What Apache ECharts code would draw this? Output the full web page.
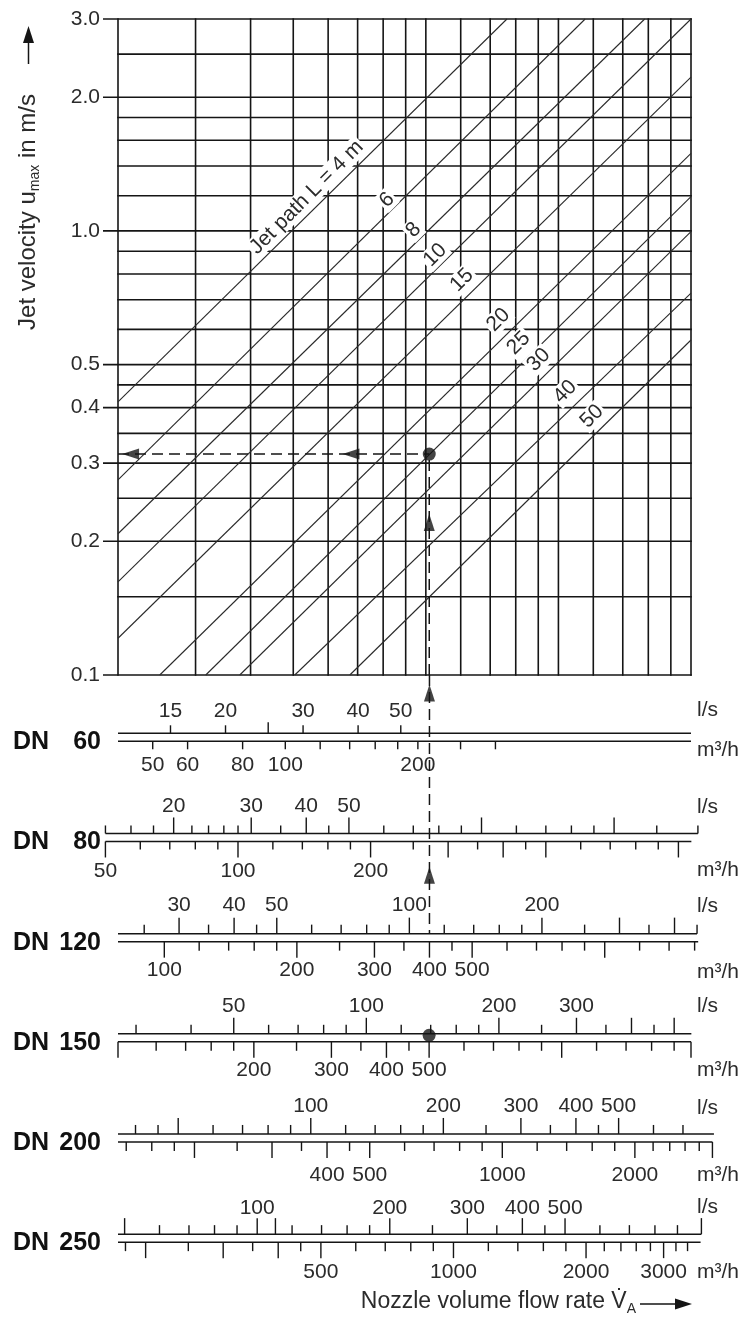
<!DOCTYPE html>
<html>
<head>
<meta charset="utf-8">
<title>Jet velocity nomogram</title>
<script src="https://cdn.jsdelivr.net/npm/echarts@6/dist/echarts.min.js"></script>
<style>
html,body{margin:0;padding:0;background:#ffffff;}
#chart{width:744px;height:1318px;}
</style>
</head>
<body>
<div id="chart"></div>
<script>
// ---------------- main diagram data ----------------
const xGridValues = [1, 1.5, 2, 2.5, 3, 3.5, 4, 4.5, 5, 6, 7, 8, 9, 10, 12, 14, 16, 18, 20];
const yGridValues = [0.1, 0.15, 0.2, 0.25, 0.3, 0.35, 0.4, 0.45, 0.5, 0.6, 0.7, 0.8, 0.9, 1.0, 1.2, 1.4, 1.6, 1.8, 2.0, 2.5, 3.0];
const yTickLabels = [0.1, 0.2, 0.3, 0.4, 0.5, 1.0, 2.0, 3.0];

const jetPaths = [4, 6, 8, 10, 15, 20, 25, 30, 40, 50];
const jetStart = [[1, 0.412], [1, 0.275], [1, 0.208], [1, 0.162], [1, 0.121], [1.244, 0.1], [1.582, 0.1], [1.89, 0.1], [2.52, 0.1], [3.36, 0.1]];
const jetEnd = [[7.64, 3.0], [11.5, 3.0], [15.7, 3.0], [20, 3.0], [20, 2.22], [20, 1.495], [20, 1.194], [20, 0.996], [20, 0.724], [20, 0.568]];
const jetLabels = ['Jet path L = 4 m', '6', '8', '10', '15', '20', '25', '30', '40', '50'];
const jetLabelAt = [[2.68, 1.19], [4.08, 1.174], [4.69, 1.004], [5.25, 0.882], [6.04, 0.775], [7.31, 0.63], [8.12, 0.559], [9.02, 0.512], [10.36, 0.434], [11.92, 0.382]];

const examplePoint = [5.09, 0.3144];
const exampleLeftArrows = [1.068, 3.38];
const exampleUpArrowMain = 0.2205;
const exampleFlowDN120 = 400;   // m3/h
const exampleFlowDN150 = 500;   // m3/h
const exampleUpArrowsScale = [0.18, 2.0];

// ---------------- DN scales ----------------
const rowNames = ['60', '80', '120', '150', '200', '250'];
const lsAxisRange  = [[11.4, 228], [14.95, 299], [21.8, 436], [27.3, 546], [36.5, 730], [48.3, 966]];
const m3hAxisRange = [[41.7, 834], [53.4, 1068], [78.5, 1570], [98.3, 1966], [134.1, 2682], [173.1, 3462]];
const lsLineRange  = [[11.4, 228], [14, 310], [21.8, 450], [27.3, 547], [36.5, 823], [48.3, 1020]];
const m3hLineRange = [[41.7, 834], [50, 1070], [78.5, 1630], [98.3, 1966], [134.1, 3000], [173.1, 3640]];

const dn60LsTicks = [15, 20, 25, 30, 40, 50];
const dn60LsLabels = [15, 20, 30, 40, 50];
const dn60LsMajor = [25];
const dn60M3hTicks = [50, 60, 80, 100, 120, 140, 160, 180, 200, 250, 300];
const dn60M3hLabels = [50, 60, 80, 100, 200];
const dn60M3hMajor = [];

const dn80LsTicks = [14, 16, 18, 20, 22, 24, 26, 28, 30, 35, 40, 45, 50, 60, 70, 80, 90, 100, 120, 140, 160, 180, 200, 250, 310];
const dn80LsLabels = [20, 30, 40, 50];
const dn80LsMajor = [20, 30, 40, 50, 100, 200];
const dn80M3hTicks = [50, 60, 70, 80, 90, 100, 120, 140, 160, 180, 200, 250, 300, 350, 400, 450, 500, 600, 700, 800, 900, 1000];
const dn80M3hLabels = [50, 100, 200];
const dn80M3hMajor = [50, 100, 200, 300, 400, 500, 1000];

const dn120LsTicks = [25, 30, 35, 40, 45, 50, 60, 70, 80, 90, 100, 120, 140, 160, 180, 200, 250, 300, 350, 400, 450];
const dn120LsLabels = [30, 40, 50, 100, 200];
const dn120LsMajor = [30, 40, 50, 100, 200, 300, 400];
const dn120M3hTicks = [100, 120, 140, 160, 180, 200, 250, 300, 350, 400, 450, 500, 600, 700, 800, 900, 1000, 1200, 1400, 1600];
const dn120M3hLabels = [100, 200, 300, 400, 500];
const dn120M3hMajor = [100, 200, 300, 400, 500, 1000];

const dn150LsTicks = [30, 40, 50, 60, 70, 80, 90, 100, 120, 140, 160, 180, 200, 250, 300, 350, 400, 450, 500];
const dn150LsLabels = [50, 100, 200, 300];
const dn150LsMajor = [50, 100, 200, 300, 400, 500];
const dn150M3hTicks = [98.3, 120, 140, 160, 180, 200, 250, 300, 350, 400, 450, 500, 600, 700, 800, 900, 1000, 1200, 1400, 1600, 1800, 1966];
const dn150M3hLabels = [200, 300, 400, 500];
const dn150M3hMajor = [98.3, 200, 300, 400, 500, 1000, 1966];

const dn200LsTicks = [40, 45, 50, 60, 70, 80, 90, 100, 120, 140, 160, 180, 200, 250, 300, 350, 400, 450, 500, 600, 700];
const dn200LsLabels = [100, 200, 300, 400, 500];
const dn200LsMajor = [50, 100, 200, 300, 400, 500];
const dn200M3hTicks = [140, 160, 180, 200, 250, 300, 350, 400, 450, 500, 600, 700, 800, 900, 1000, 1200, 1400, 1600, 1800, 2000, 2200, 2400, 2600, 2800, 3000];
const dn200M3hLabels = [400, 500, 1000, 2000];
const dn200M3hMajor = [200, 300, 400, 500, 1000, 2000, 3000];

const dn250LsTicks = [50, 60, 70, 80, 90, 100, 110, 120, 140, 160, 180, 200, 250, 300, 350, 400, 450, 500, 600, 700, 800, 900, 1020];
const dn250LsLabels = [100, 200, 300, 400, 500];
const dn250LsMajor = [50, 100, 110, 200, 300, 400, 500, 1020];
const dn250M3hTicks = [180, 200, 250, 300, 350, 400, 450, 500, 600, 700, 800, 900, 1000, 1200, 1400, 1600, 1800, 2000, 2200, 2400, 2600, 2800, 3000, 3200, 3400];
const dn250M3hLabels = [500, 1000, 2000, 3000];
const dn250M3hMajor = [200, 300, 400, 500, 1000, 2000, 3000];

// ---------------- layout / style ----------------
const INK = '#151515';
const TXT = '#2b2b2b';
const FONT = '"Liberation Sans", Arial, Helvetica, sans-serif';
const X_MIN = 1, X_MAX = 20, Y_MIN = 0.1, Y_MAX = 3.0;
const LINE_GAP = 8;
const rowTop = i => 0.582 + i;
const tickShort = [8, 8, 9, 9, 9, 9];
const tickLong = [11, 16, 16, 16, 16, 16];
const labelUp = [22, 27, 28, 28, 28, 26];
const labelDown = [24, 30, 29, 28, 33, 30];
const unitUp = [23, 26, 27, 28, 26, 27];
const unitDown = [9, 29, 31, 28, 33, 30];

function lineEl(x1, y1, x2, y2, w, color, dash) {
  return { type: 'line', shape: { x1, y1, x2, y2 }, style: { stroke: color || INK, lineWidth: w || 1.5, lineDash: dash || null } };
}
function textEl(x, y, text, align, size, extra) {
  return { type: 'text', x: x, y: y, style: Object.assign({ text: String(text), align: align || 'center', verticalAlign: 'middle', fontSize: size || 21, fontFamily: FONT, fill: TXT }, extra || {}) };
}

const series = [];

// vertical grid lines
series.push({
  type: 'custom', xAxisIndex: 0, yAxisIndex: 0, z: 1, silent: true,
  data: xGridValues.map(v => [v, Y_MIN]),
  renderItem: (params, api) => {
    const v = api.value(0);
    const a = api.coord([v, Y_MIN]), b = api.coord([v, Y_MAX]);
    return lineEl(a[0], a[1] + 0.8, b[0], b[1] - 0.8, 1.6);
  }
});
// horizontal grid lines + y labels
series.push({
  type: 'custom', xAxisIndex: 0, yAxisIndex: 0, z: 1, silent: true,
  data: yGridValues.map(v => [X_MIN, v]),
  renderItem: (params, api) => {
    const v = api.value(1);
    const a = api.coord([X_MIN, v]), b = api.coord([X_MAX, v]);
    const labeled = yTickLabels.indexOf(v) >= 0;
    const ch = [lineEl(labeled ? a[0] - 15 : a[0] - 0.8, a[1], b[0] + 0.8, b[1], 1.6)];
    if (labeled) ch.push(textEl(a[0] - 18, a[1], v.toFixed(1), 'right', 21));
    return { type: 'group', children: ch };
  }
});
// jet path lines
series.push({
  type: 'custom', xAxisIndex: 0, yAxisIndex: 0, z: 2, silent: true,
  encode: { x: [0, 2], y: [1, 3] },
  data: jetPaths.map((L, i) => [jetStart[i][0], jetStart[i][1], jetEnd[i][0], jetEnd[i][1], L]),
  renderItem: (params, api) => {
    const a = api.coord([api.value(0), api.value(1)]);
    const b = api.coord([api.value(2), api.value(3)]);
    return lineEl(a[0], a[1], b[0], b[1], 1.1, '#2a2a2a');
  }
});
// jet path labels
series.push({
  type: 'custom', xAxisIndex: 0, yAxisIndex: 0, z: 3, silent: true,
  data: jetLabelAt.map((p, i) => [p[0], p[1], i]),
  renderItem: (params, api) => {
    const c = api.coord([api.value(0), api.value(1)]);
    const t = textEl(c[0], c[1], jetLabels[api.value(2)], 'center', 21, { backgroundColor: '#ffffff', padding: [0, 2] });
    t.rotation = Math.PI / 4;
    return t;
  }
});
// example dashed lines (main)
const dashStyle = { color: INK, width: 1.5, type: [11, 6] };
series.push({ type: 'line', xAxisIndex: 0, yAxisIndex: 0, z: 4, silent: true, symbol: 'none', lineStyle: dashStyle,
  data: [[X_MIN, examplePoint[1]], examplePoint] });
series.push({ type: 'line', xAxisIndex: 0, yAxisIndex: 0, z: 4, silent: true, symbol: 'none', lineStyle: dashStyle,
  data: [[examplePoint[0], Y_MIN], examplePoint] });
series.push({ type: 'scatter', xAxisIndex: 0, yAxisIndex: 0, z: 5, silent: true, symbol: 'triangle', symbolSize: [11, 17],
  itemStyle: { color: INK },
  data: [
    { value: [exampleLeftArrows[0], examplePoint[1]], symbolRotate: 90 },
    { value: [exampleLeftArrows[1], examplePoint[1]], symbolRotate: 90 },
    { value: [examplePoint[0], exampleUpArrowMain], symbolRotate: 0 }
  ] });
series.push({ type: 'scatter', xAxisIndex: 0, yAxisIndex: 0, z: 5, silent: true, symbol: 'circle', symbolSize: 13,
  itemStyle: { color: INK }, data: [examplePoint] });

// ---------------- DN scale series ----------------
const lsSets = [
  [dn60LsTicks, dn60LsLabels, dn60LsMajor], [dn80LsTicks, dn80LsLabels, dn80LsMajor],
  [dn120LsTicks, dn120LsLabels, dn120LsMajor], [dn150LsTicks, dn150LsLabels, dn150LsMajor],
  [dn200LsTicks, dn200LsLabels, dn200LsMajor], [dn250LsTicks, dn250LsLabels, dn250LsMajor]
];
const m3hSets = [
  [dn60M3hTicks, dn60M3hLabels, dn60M3hMajor], [dn80M3hTicks, dn80M3hLabels, dn80M3hMajor],
  [dn120M3hTicks, dn120M3hLabels, dn120M3hMajor], [dn150M3hTicks, dn150M3hLabels, dn150M3hMajor],
  [dn200M3hTicks, dn200M3hLabels, dn200M3hMajor], [dn250M3hTicks, dn250M3hLabels, dn250M3hMajor]
];

function makeBase(row, axisIndex, side, range) {
  return {
    type: 'custom', xAxisIndex: axisIndex, yAxisIndex: 1, z: 3, silent: true,
    encode: { x: [0, 2], y: 1 },
    data: [[range[0], rowTop(row), range[1]]],
    renderItem: (params, api) => {
      const a = api.coord([api.value(0), api.value(1)]);
      const b = api.coord([api.value(2), api.value(1)]);
      const dy = side === 'up' ? 0 : LINE_GAP;
      return lineEl(a[0], a[1] + dy, b[0], b[1] + dy, 1.5);
    }
  };
}
function makeTicks(row, axisIndex, side, set) {
  const lab = set[1], maj = set[2];
  return {
    type: 'custom', xAxisIndex: axisIndex, yAxisIndex: 1, z: 3, silent: true,
    data: set[0].map(v => [v, rowTop(row)]),
    renderItem: (params, api) => {
      const v = api.value(0);
      const p = api.coord([v, api.value(1)]);
      const x = p[0];
      const y0 = side === 'up' ? p[1] : p[1] + LINE_GAP;
      const len = maj.indexOf(v) >= 0 ? tickLong[row] : tickShort[row];
      const y1 = side === 'up' ? y0 - len : y0 + len;
      const ch = [lineEl(x, y0, x, y1, 1.4)];
      if (lab.indexOf(v) >= 0) {
        ch.push(textEl(x, side === 'up' ? y0 - labelUp[row] : y0 + labelDown[row], v, 'center', 21));
      }
      return { type: 'group', children: ch };
    }
  };
}
for (let i = 0; i < 6; i++) {
  series.push(makeBase(i, 1 + i, 'up', lsLineRange[i]));
  series.push(makeTicks(i, 1 + i, 'up', lsSets[i]));
  series.push(makeBase(i, 7 + i, 'down', m3hLineRange[i]));
  series.push(makeTicks(i, 7 + i, 'down', m3hSets[i]));
}
// row names and units
series.push({
  type: 'custom', xAxisIndex: 1, yAxisIndex: 1, z: 3, silent: true,
  data: rowNames.map((n, i) => [lsAxisRange[0][0], rowTop(i), i]),
  renderItem: (params, api) => {
    const i = api.value(2);
    const p = api.coord([api.value(0), api.value(1)]);
    const cs = params.coordSys;
    const yTop = p[1], yBot = p[1] + LINE_GAP;
    const xr = cs.x + cs.width + 6;
    return { type: 'group', children: [
      textEl(13, yBot + 1, 'DN', 'left', 25, { fontWeight: 'bold', fill: '#111' }),
      textEl(cs.x - 17, yBot + 1, rowNames[i], 'right', 25, { fontWeight: 'bold', fill: '#111' }),
      textEl(xr, yTop - unitUp[i], 'l/s', 'left', 21),
      textEl(xr, yBot + unitDown[i], 'm\u00b3/h', 'left', 21)
    ] };
  }
});
// example on the scales
series.push({ type: 'line', xAxisIndex: 9, yAxisIndex: 1, z: 4, silent: true, symbol: 'none', lineStyle: dashStyle,
  data: [[exampleFlowDN120, 0], [exampleFlowDN120, rowTop(2)]] });
series.push({ type: 'scatter', xAxisIndex: 9, yAxisIndex: 1, z: 5, silent: true, symbol: 'triangle', symbolSize: [11, 17],
  itemStyle: { color: INK }, data: exampleUpArrowsScale.map(y => [exampleFlowDN120, y]) });
series.push({ type: 'scatter', xAxisIndex: 10, yAxisIndex: 1, z: 5, silent: true, symbol: 'circle', symbolSize: 13,
  itemStyle: { color: INK }, data: [[exampleFlowDN150, rowTop(3) + 0.015]] });

// ---------------- axes ----------------
const xAxes = [{ type: 'log', gridIndex: 0, min: X_MIN, max: X_MAX, logBase: 10, show: false }];
for (let i = 0; i < 6; i++) xAxes.push({ type: 'log', gridIndex: 1, min: lsAxisRange[i][0], max: lsAxisRange[i][1], logBase: 10, show: false });
for (let i = 0; i < 6; i++) xAxes.push({ type: 'log', gridIndex: 1, min: m3hAxisRange[i][0], max: m3hAxisRange[i][1], logBase: 10, show: false });
const yAxes = [
  { type: 'log', gridIndex: 0, min: Y_MIN, max: Y_MAX, logBase: 10, show: false },
  { type: 'value', gridIndex: 1, min: 0, max: 6, inverse: true, show: false }
];

const chart = echarts.init(document.getElementById('chart'), null, { renderer: 'canvas' });
chart.setOption({
  animation: false,
  backgroundColor: '#ffffff',
  textStyle: { fontFamily: FONT },
  grid: [
    { left: 118, top: 19, width: 573, height: 656 },
    { left: 118, top: 675, width: 573, height: 601 }
  ],
  xAxis: xAxes,
  yAxis: yAxes,
  series: series,
  graphic: [
    { type: 'text', x: 28.5, y: 212, rotation: Math.PI / 2, silent: true,
      style: { text: '{a|Jet velocity u}{s|max}{a| in m/s}', align: 'center', verticalAlign: 'middle',
        rich: { a: { fontSize: 24, fontFamily: FONT, fill: TXT, lineHeight: 28 },
                s: { fontSize: 14, fontFamily: FONT, fill: TXT, lineHeight: 28, verticalAlign: 'bottom' } } } },
    { type: 'line', silent: true, shape: { x1: 28.5, y1: 64, x2: 28.5, y2: 40 }, style: { stroke: INK, lineWidth: 1.5 } },
    { type: 'polygon', silent: true, shape: { points: [[28.5, 26], [23, 43], [34, 43]] }, style: { fill: INK } },
    { type: 'text', x: 636, y: 1302, silent: true,
      style: { text: '{a|Nozzle volume flow rate V\u0307}{s|A}', align: 'right', verticalAlign: 'middle',
        rich: { a: { fontSize: 23, fontFamily: FONT, fill: TXT, lineHeight: 28 },
                s: { fontSize: 14, fontFamily: FONT, fill: TXT, lineHeight: 28, verticalAlign: 'bottom' } } } },
    { type: 'line', silent: true, shape: { x1: 640, y1: 1304, x2: 680, y2: 1304 }, style: { stroke: INK, lineWidth: 1.5 } },
    { type: 'polygon', silent: true, shape: { points: [[692, 1304], [675, 1298.5], [675, 1309.5]] }, style: { fill: INK } }
  ]
});
</script>
</body>
</html>
